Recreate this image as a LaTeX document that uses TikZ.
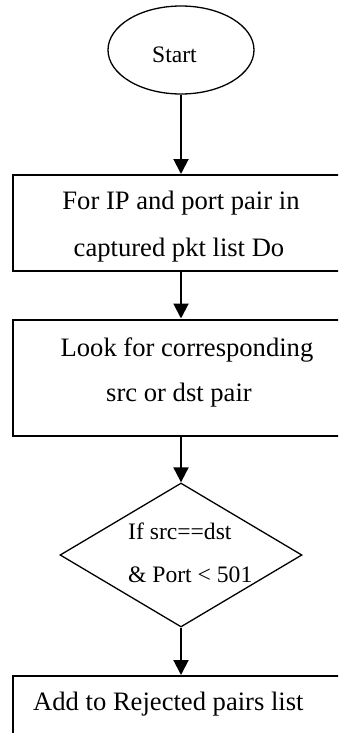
\documentclass[tikz,border=0pt]{standalone}
\usepackage{fontspec}
\setmainfont{Liberation Serif}
\usetikzlibrary{shapes.geometric,arrows.meta}
\begin{document}
\begin{tikzpicture}[x=1pt,y=-1pt,
  box/.style={draw, rectangle, line width=2pt, minimum width=336pt, inner sep=0pt},
  term/.style={draw, ellipse, line width=1.3pt, minimum width=146pt, minimum height=88pt, inner sep=0pt},
  decision/.style={draw, diamond, line width=1.3pt, minimum width=242pt, minimum height=144pt, inner sep=0pt},
  bigtxt/.style={inner sep=0pt, font=\fontsize{26.6}{32}\selectfont},
  smalltxt/.style={inner sep=0pt, font=\fontsize{23.6}{28}\selectfont},
  flow/.style={line width=2pt, -{Triangle[width=15pt,length=15pt]}}
]
\useasboundingbox (0,0) rectangle (338,733);
\clip (0,0) rectangle (338,733);

% shapes
\node[term] (start) at (181,50) {};
\node[box, minimum height=96pt] (loop) at (181,223) {};
\node[box, minimum height=116pt] (look) at (181,377.5) {};
\node[decision] (test) at (181,555) {};
\node[box, minimum height=80pt, anchor=north] (reject) at (181,675) {};

% labels
\node[smalltxt, anchor=base] (tstart) at (174.5,63) {Start};
\node[bigtxt, anchor=base] (tloopa) at (181,209) {For IP and port pair in};
\node[bigtxt, anchor=base] (tloopb) at (179,256) {captured pkt list Do};
\node[bigtxt, anchor=base] (tlooka) at (187,356) {Look for corresponding};
\node[bigtxt, anchor=base] (tlookb) at (179,401) {src or dst pair};
\node[smalltxt, anchor=base west] (ttesta) at (128,539) {If src==dst};
\node[smalltxt, anchor=base west] (ttestb) at (128,582) {\& Port < 501};
\node[bigtxt, anchor=base west] (treject) at (33,710) {Add to Rejected pairs list};

% connectors
\draw[flow] (start.south) -- (loop.north);
\draw[flow] (loop.south) -- (look.north);
\draw[flow] (look.south) -- (test.north);
\draw[flow] (test.south) -- (reject.north);
\end{tikzpicture}
\end{document}
